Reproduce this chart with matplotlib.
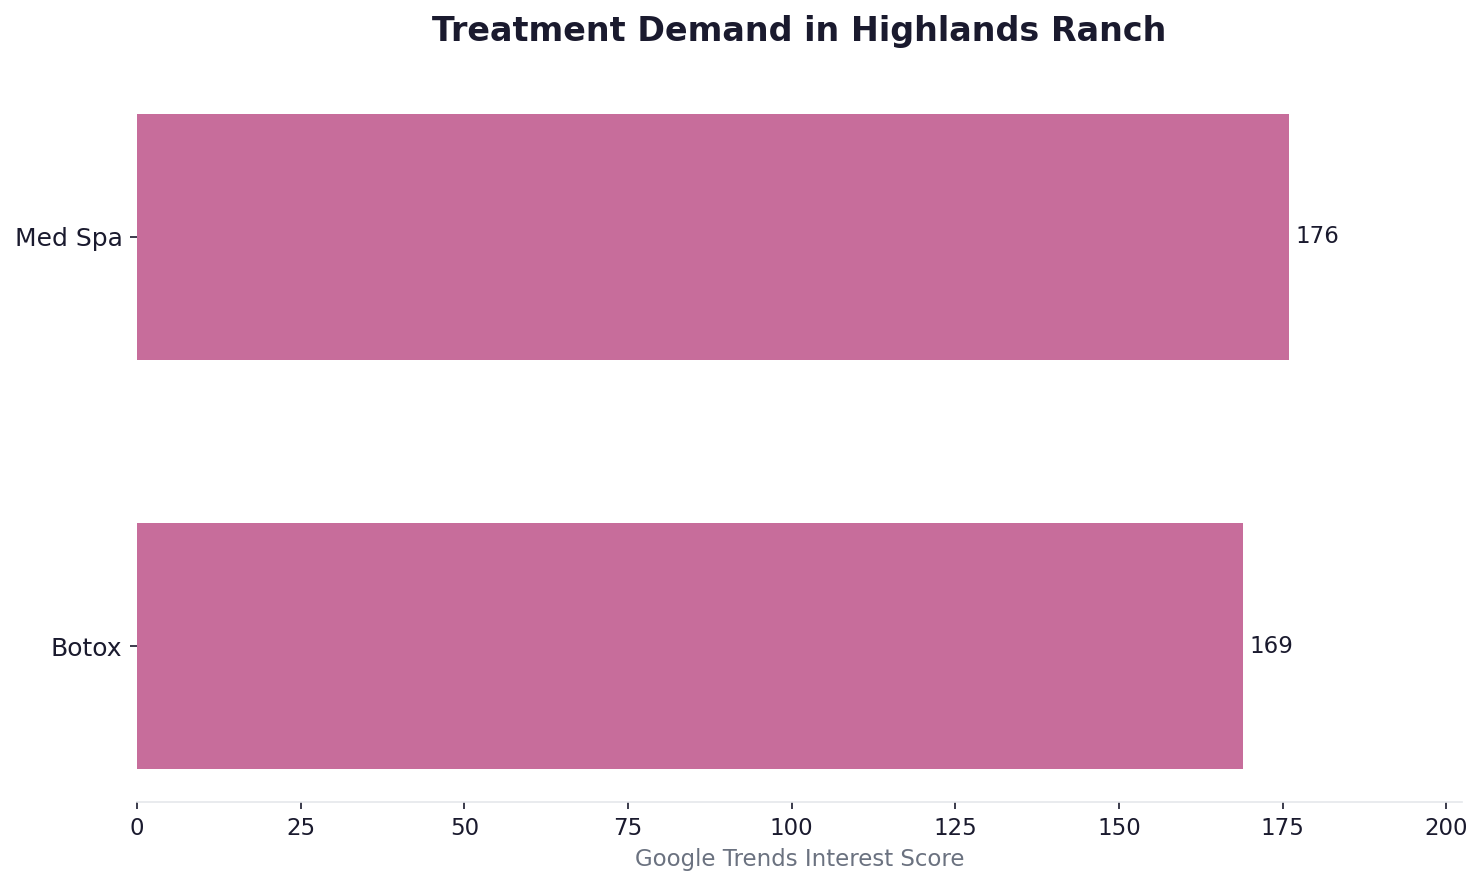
import matplotlib
matplotlib.use("Agg")
import matplotlib.pyplot as plt

treatments = ["Botox", "Med Spa"]
scores = [169, 176]

bar_color = "#C76D9B"
dark = "#1a1a2e"
grey = "#6b7280"

fig = plt.figure(figsize=(1483 / 150, 887 / 150), dpi=150)
ax = fig.add_axes([0.0924, 0.0958, 0.8934, 0.8129])

bars = ax.barh(treatments, scores, height=0.6, color=bar_color)
for b, v in zip(bars, scores):
    ax.text(b.get_width() + 1, b.get_y() + b.get_height() / 2, str(v),
            va="center", ha="left", fontsize=11, color=dark)

ax.set_xlim(0, max(scores) * 1.15)
ax.set_ylim(-0.38, 1.38)
ax.set_xticks([0, 25, 50, 75, 100, 125, 150, 175, 200])
ax.set_xlabel("Google Trends Interest Score", fontsize=11, color=grey)
ax.set_title("Treatment Demand in Highlands Ranch", fontsize=16,
             fontweight="bold", color=dark, pad=19)

for s in ["top", "right", "left"]:
    ax.spines[s].set_visible(False)
ax.spines["bottom"].set_color("#e5e7eb")
ax.tick_params(axis="x", labelsize=11, colors=dark)
ax.tick_params(axis="y", labelsize=12, colors=dark)
for lab in ax.get_xticklabels() + ax.get_yticklabels():
    lab.set_color(dark)

fig.savefig("out.png", dpi=150)
